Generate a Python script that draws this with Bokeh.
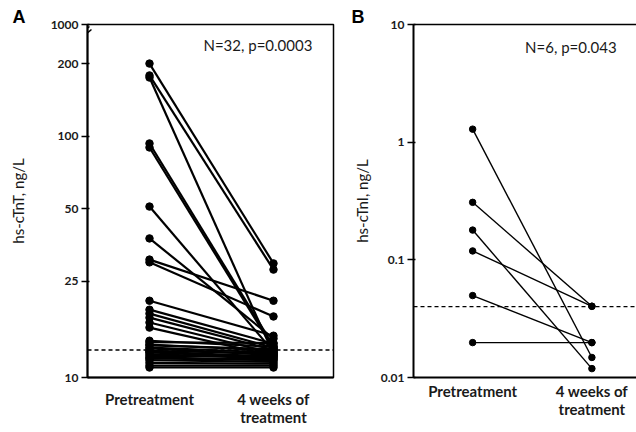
from bokeh.plotting import figure
from bokeh.models import Range1d, FixedTicker, Label, Span, ColumnDataSource, LinearAxis
from bokeh.layouts import row
from bokeh.embed import file_html
from bokeh.resources import INLINE

# ---------------- data ----------------
x_pos = [1, 2]
x_labels = ["Pretreatment", "4 weeks of\ntreatment"]

# Panel A: hs-cTnT (ng/L), 32 patients
pre_A = [200, 178.5, 175, 93.3, 89.8, 51.1, 37.7, 30.8, 30.0, 20.8, 19.1, 18.4,
         17.7, 16.9, 16.1, 14.2, 14.0, 13.7, 13.6, 13.3, 13.2, 12.9, 12.8, 12.7,
         12.5, 12.3, 12.1, 12.0, 11.8, 11.5, 11.2, 11.0]
post_A = [29.7, 28.0, 12.5, 13.5, 13.2, 12.8, 14.5, 20.8, 17.9, 14.9, 13.8, 13.3,
          13.0, 12.6, 12.3, 13.4, 13.9, 12.9, 13.1, 12.7, 12.4, 12.6, 12.2, 12.1,
          12.0, 12.3, 11.9, 11.8, 11.6, 11.4, 11.2, 11.0]
cutoff_A = 13.0
yticks_A = [10, 25, 50, 100, 200, 290.3]
ytick_labels_A = ["10", "25", "50", "100", "200", "1000"]
stat_A = "N=32, p=0.0003"

# Panel B: hs-cTnI (ng/L), 6 patients
pre_B = [1.29, 0.308, 0.179, 0.119, 0.0497, 0.0198]
post_B = [0.0148, 0.0403, 0.0119, 0.0403, 0.0198, 0.0198]
cutoff_B = 0.04
yticks_B = [0.01, 0.1, 1, 10]
ytick_labels_B = ["0.01", "0.1", "1", "10"]
stat_B = "N=6, p=0.043"

FONT = "Lato"
TXT = "#1a1a1a"


def style(p, yticks, ylabels, ylabel, standoff, x_standoff, letter, letter_off):
    p.grid.visible = False
    p.background_fill_color = "white"
    p.border_fill_color = "white"

    p.xaxis.ticker = FixedTicker(ticks=x_pos)
    p.xaxis.major_label_overrides = {t: l for t, l in zip(x_pos, x_labels)}
    p.xaxis.major_tick_line_color = None
    p.xaxis.major_tick_out = 0
    p.xaxis.major_tick_in = 0
    p.xaxis.minor_tick_line_color = None
    p.xaxis.minor_tick_out = 0
    p.xaxis.minor_tick_in = 0
    p.xaxis.axis_line_width = 2
    p.xaxis.major_label_text_font = FONT
    p.xaxis.major_label_text_font_size = "15px"
    p.xaxis.major_label_text_font_style = "bold"
    p.xaxis.major_label_text_color = TXT
    p.xaxis.major_label_text_line_height = 1.0
    p.xaxis.major_label_standoff = x_standoff

    p.yaxis.ticker = FixedTicker(ticks=yticks)
    p.yaxis.major_label_overrides = {t: l for t, l in zip(yticks, ylabels)}
    p.yaxis.minor_tick_line_color = None
    p.yaxis.major_tick_out = 6
    p.yaxis.major_tick_in = 2
    p.yaxis.major_tick_line_width = 1.5
    p.yaxis.axis_line_width = 2
    p.yaxis.major_label_text_font = FONT
    p.yaxis.major_label_text_font_size = "12px"
    p.yaxis.major_label_text_font_style = "bold"
    p.yaxis.major_label_text_color = TXT
    p.yaxis.major_label_standoff = 3
    p.yaxis.axis_label = ylabel
    p.yaxis.axis_label_text_font = FONT
    p.yaxis.axis_label_text_font_size = "15px"
    p.yaxis.axis_label_text_font_style = "normal"
    p.yaxis.axis_label_text_color = TXT
    p.yaxis.axis_label_standoff = standoff

    p.title.text = letter
    p.title.align = "left"
    p.title.offset = letter_off
    p.title.standoff = -5
    p.title.text_line_height = 1.0
    p.title.text_font = "Liberation Sans"
    p.title.text_font_size = "18px"
    p.title.text_font_style = "bold"
    p.title.text_color = "black"


# ---------------- Panel A ----------------
pA = figure(width=345, height=432, y_axis_type="log",
            x_range=Range1d(0.5, 2.484), y_range=Range1d(10, 290.3),
            output_backend="svg", toolbar_location=None,
            min_border_left=87, min_border_right=12,
            min_border_top=24, min_border_bottom=55)
style(pA, yticks_A, ytick_labels_A, "hs-cTnT, ng/L", 21, 12, "A", -75)
pA.outline_line_color = "black"
pA.outline_line_width = 1.5

srcA = ColumnDataSource(dict(x0=[x_pos[0]] * len(pre_A), y0=pre_A,
                             x1=[x_pos[1]] * len(post_A), y1=post_A))
pA.segment("x0", "y0", "x1", "y1", source=srcA, line_color="black", line_width=2.2)
pA.scatter("x0", "y0", source=srcA, size=7.5, color="black")
pA.scatter("x1", "y1", source=srcA, size=7.5, color="black")
pA.add_layout(Span(location=cutoff_A, dimension="width", line_color="black",
                   line_dash="4 3", line_width=1.4))
# axis break mark
pA.segment(x0=[0.468, 0.484], y0=[271.6, 263.9], x1=[0.516, 0.532], y1=[284.9, 276.8],
           line_color="black", line_width=1.5)
pA.add_layout(Label(x=1.435, y=237.7, text=stat_A, text_font=FONT,
                    text_font_size="15px", text_color=TXT,
                    text_baseline="middle"))

# ---------------- Panel B ----------------
pB = figure(width=291, height=432, y_axis_type="log",
            x_range=Range1d(0.504, 2.374), y_range=Range1d(0.01, 10),
            output_backend="svg", toolbar_location=None,
            min_border_left=68, min_border_right=0,
            min_border_top=22, min_border_bottom=48)
style(pB, yticks_B, ytick_labels_B, "hs-cTnI, ng/L", 7, 4, "B", -62)
pB.outline_line_color = None
top_axis = LinearAxis(ticker=FixedTicker(ticks=[]), axis_line_width=1.5,
                      major_tick_line_color=None, minor_tick_line_color=None,
                      major_tick_out=0, minor_tick_out=0)
pB.add_layout(top_axis, "above")

srcB = ColumnDataSource(dict(x0=[x_pos[0]] * len(pre_B), y0=pre_B,
                             x1=[x_pos[1]] * len(post_B), y1=post_B))
pB.segment("x0", "y0", "x1", "y1", source=srcB, line_color="black", line_width=1.4)
pB.scatter("x0", "y0", source=srcB, size=6.5, color="black")
pB.scatter("x1", "y1", source=srcB, size=6.5, color="black")
pB.add_layout(Span(location=cutoff_B, dimension="width", line_color="black",
                   line_dash="4 3", line_width=1.4))
pB.add_layout(Label(x=1.44, y=6.44, text=stat_B, text_font=FONT,
                    text_font_size="15px", text_color=TXT,
                    text_baseline="middle"))

layout = row(pA, pB)
open("out.html", "w").write(file_html(layout, INLINE))
